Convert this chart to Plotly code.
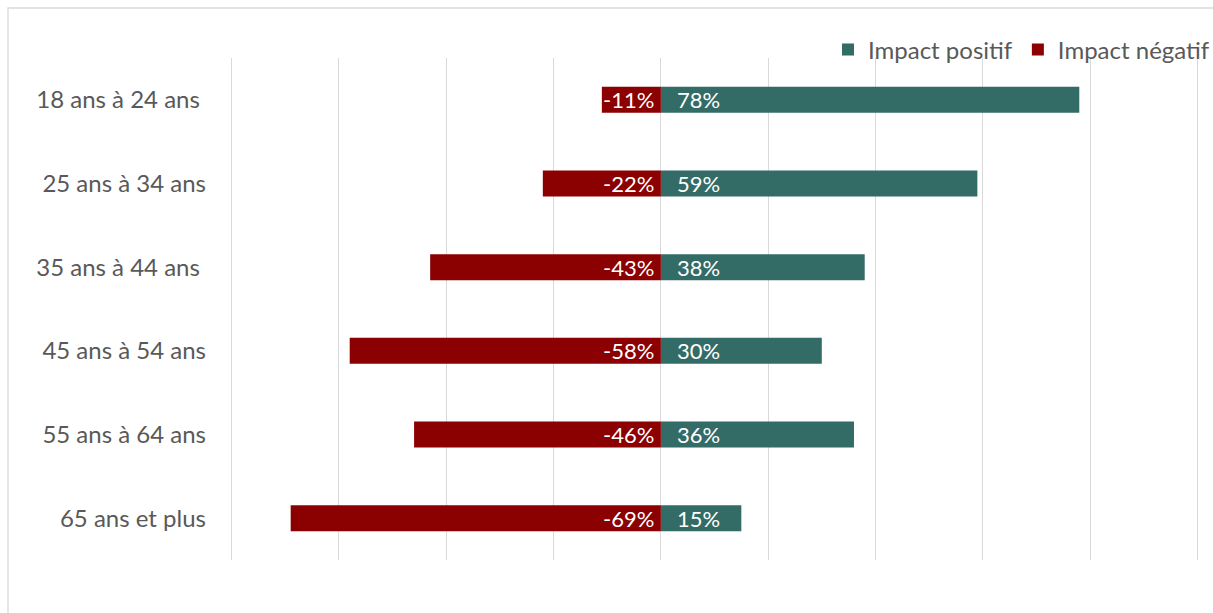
import plotly.graph_objects as go

categories = ["18 ans à 24 ans\u00a0", "25 ans à 34 ans", "35 ans à 44 ans\u00a0",
              "45 ans à 54 ans", "55 ans à 64 ans", "65 ans et plus"]
positif = [78, 59, 38, 30, 36, 15]
negatif = [-11, -22, -43, -58, -46, -69]

FONT = "Lato"
TEAL = "#336B66"
RED = "#8B0000"
GRAY = "#595959"
W, H = 1213, 613
L, R, T, B = 229, 13, 58, 53

fig = go.Figure()
fig.add_trace(go.Bar(
    y=categories, x=positif, orientation="h", name="Impact positif",
    marker=dict(color=TEAL, line=dict(width=0)),
))
fig.add_trace(go.Bar(
    y=categories, x=negatif, orientation="h", name="Impact négatif",
    marker=dict(color=RED, line=dict(width=0)),
))

annotations = []
for c, p, n in zip(categories, positif, negatif):
    annotations.append(dict(x=0, y=c, xref="x", yref="y", text=f"{p}%",
                            xanchor="left", xshift=14, showarrow=False,
                            font=dict(color="white", size=22, family=FONT)))
    annotations.append(dict(x=0, y=c, xref="x", yref="y", text=f"{n}%",
                            xanchor="right", xshift=-5, showarrow=False,
                            font=dict(color="white", size=22, family=FONT)))

pw = W - L - R
ph = H - T - B
fig.update_layout(
    width=W, height=H,
    margin=dict(l=L, r=R, t=T, b=B, autoexpand=False),
    barmode="relative", bargap=0.69,
    plot_bgcolor="white", paper_bgcolor="white",
    font=dict(family=FONT, size=24, color=GRAY),
    legend=dict(orientation="h", x=(W + 2 - L) / pw, xanchor="right",
                y=1 + (T - 50) / ph, yanchor="middle",
                font=dict(size=24, color=GRAY), traceorder="normal",
                itemwidth=30, bgcolor="rgba(0,0,0,0)"),
    xaxis=dict(range=[-80.5, 100.5], tickvals=[-80, -60, -40, -20, 0, 20, 40, 60, 80, 100],
               showticklabels=False,
               showgrid=True, gridcolor="#D9D9D9", gridwidth=1.3,
               zeroline=True, zerolinecolor="#D9D9D9", zerolinewidth=1.3,
               fixedrange=True),
    yaxis=dict(autorange="reversed", showgrid=False, zeroline=False,
               ticklabelstandoff=22, tickfont=dict(size=24, color=GRAY)),
    annotations=annotations,
    shapes=[dict(type="rect", xref="paper", yref="paper",
                 x0=(8 - L) / pw, x1=(W + 20 - L) / pw,
                 y0=-(B + 20) / ph, y1=1 + (T - 8) / ph,
                 line=dict(color="#D9D9D9", width=1.3), layer="below")],
)

fig.write_html("out.html")
